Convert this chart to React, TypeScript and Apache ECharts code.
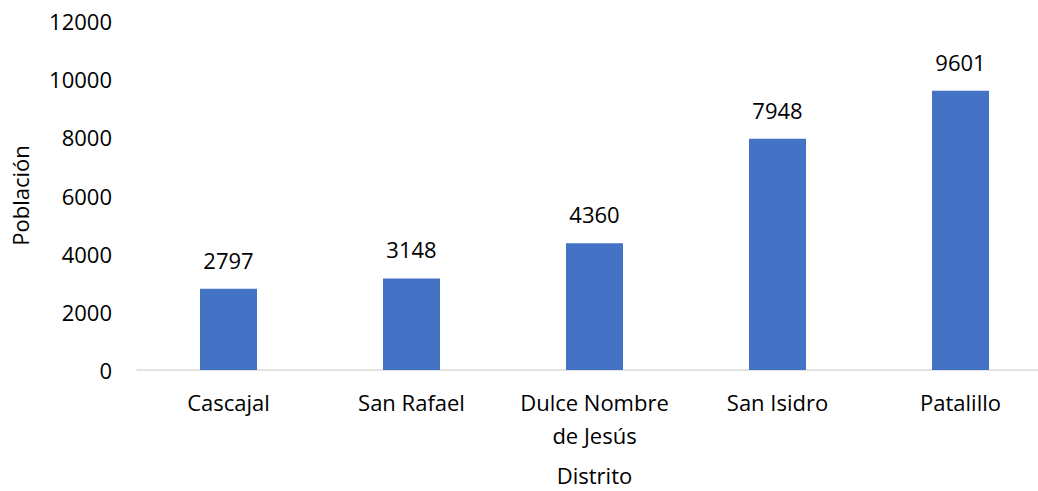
import React, { useEffect, useRef } from "react";
import * as echarts from "echarts";

const categories = ["Cascajal", "San Rafael", "Dulce Nombre\nde Jesús", "San Isidro", "Patalillo"];
const values = [2797, 3148, 4360, 7948, 9601];
const yMin = 0;
const yMax = 12000;
const yInterval = 2000;
const xTitle = "Distrito";
const yTitle = "Población";

const FONT = "'Open Sans', sans-serif";

export default function App() {
  const ref = useRef<HTMLDivElement>(null);
  useEffect(() => {
    if (!ref.current) return;
    const chart = echarts.init(ref.current, undefined, { renderer: "svg" });
    chart.setOption({
      animation: false,
      textStyle: { fontFamily: FONT },
      grid: { left: 137, top: 21, width: 915, height: 349, containLabel: false },
      xAxis: {
        type: "category",
        data: categories,
        name: xTitle,
        nameLocation: "middle",
        nameGap: 94,
        nameTextStyle: { fontFamily: FONT, fontSize: 22, color: "#000", lineHeight: 22 },
        axisLine: { show: true, lineStyle: { color: "#D9D9D9", width: 1.5 } },
        axisTick: { show: false },
        axisLabel: { interval: 0, fontFamily: FONT, fontSize: 22, color: "#000", lineHeight: 33, margin: 15 },
      },
      yAxis: {
        type: "value",
        min: yMin,
        max: yMax,
        interval: yInterval,
        name: yTitle,
        nameLocation: "middle",
        nameRotate: 90,
        nameGap: 106,
        nameTextStyle: { fontFamily: FONT, fontSize: 22, color: "#000" },
        splitLine: { show: false },
        axisLine: { show: false },
        axisTick: { show: false },
        axisLabel: { fontFamily: FONT, fontSize: 22, color: "#000", margin: 25, formatter: (v: number) => String(v) },
      },
      series: [
        {
          type: "bar",
          data: values,
          barWidth: 57,
          itemStyle: { color: "#4472C4" },
          label: { show: true, position: "top", distance: 18, fontFamily: FONT, fontSize: 22, color: "#000" },
        },
      ],
    });
    return () => chart.dispose();
  }, []);
  return (
    <div style={{ position: "absolute", left: 0, top: 0, width: 1038, height: 491, overflow: "hidden", background: "#fff" }}>
      <div ref={ref} style={{ width: 1052, height: 491 }} />
    </div>
  );
}
